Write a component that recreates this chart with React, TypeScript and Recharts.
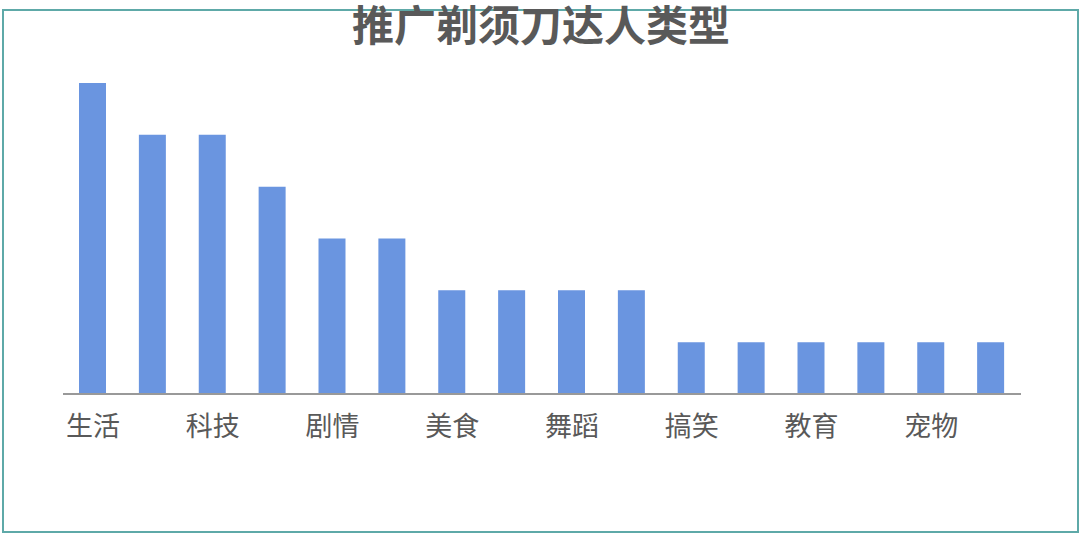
import React from "react";
import { BarChart, Bar, XAxis, YAxis } from "recharts";

const categories = ["生活", "颜值", "科技", "汽车", "剧情", "时尚", "美食", "健身", "舞蹈", "旅行", "搞笑", "游戏", "教育", "音乐", "宠物", "母婴"];
const counts = [6, 5, 5, 4, 3, 3, 2, 2, 2, 2, 1, 1, 1, 1, 1, 1];
const title = "推广剃须刀达人类型";

const data = categories.map((name, i) => ({ name, value: counts[i] }));

const FONT = '"Noto Sans CJK SC", "Noto Sans", sans-serif';

export default function App() {
  return (
    <div style={{ position: "absolute", left: 0, top: 0, width: 1080, height: 535, background: "#fff", overflow: "hidden" }}>
      <div
        style={{
          position: "absolute",
          left: 2,
          top: 9,
          width: 1073,
          height: 520,
          border: "2px solid #5ea9a8",
        }}
      />
      <div style={{ position: "absolute", left: 0, top: 0 }}>
        <BarChart
          width={1080}
          height={535}
          data={data}
          margin={{ top: 83, right: 59, bottom: 101, left: 63 }}
        >
          <YAxis hide domain={[0, 6]} />
          <XAxis
            dataKey="name"
            height={40}
            interval={1}
            tickLine={false}
            tickSize={0}
            tickMargin={23}
            axisLine={{ stroke: "#999999", strokeWidth: 2 }}
            tick={{ fill: "#595959", fontSize: 27, fontFamily: FONT }}
          />
          <Bar dataKey="value" fill="#6a95e0" barSize={27} isAnimationActive={false} />
        </BarChart>
      </div>
      <div
        style={{
          position: "absolute",
          left: 0,
          top: 0,
          width: 1082,
          textAlign: "center",
          fontFamily: FONT,
          fontWeight: 700,
          fontSize: 42,
          color: "#595959",
          lineHeight: "46px",
        }}
      >
        {title}
      </div>
    </div>
  );
}
